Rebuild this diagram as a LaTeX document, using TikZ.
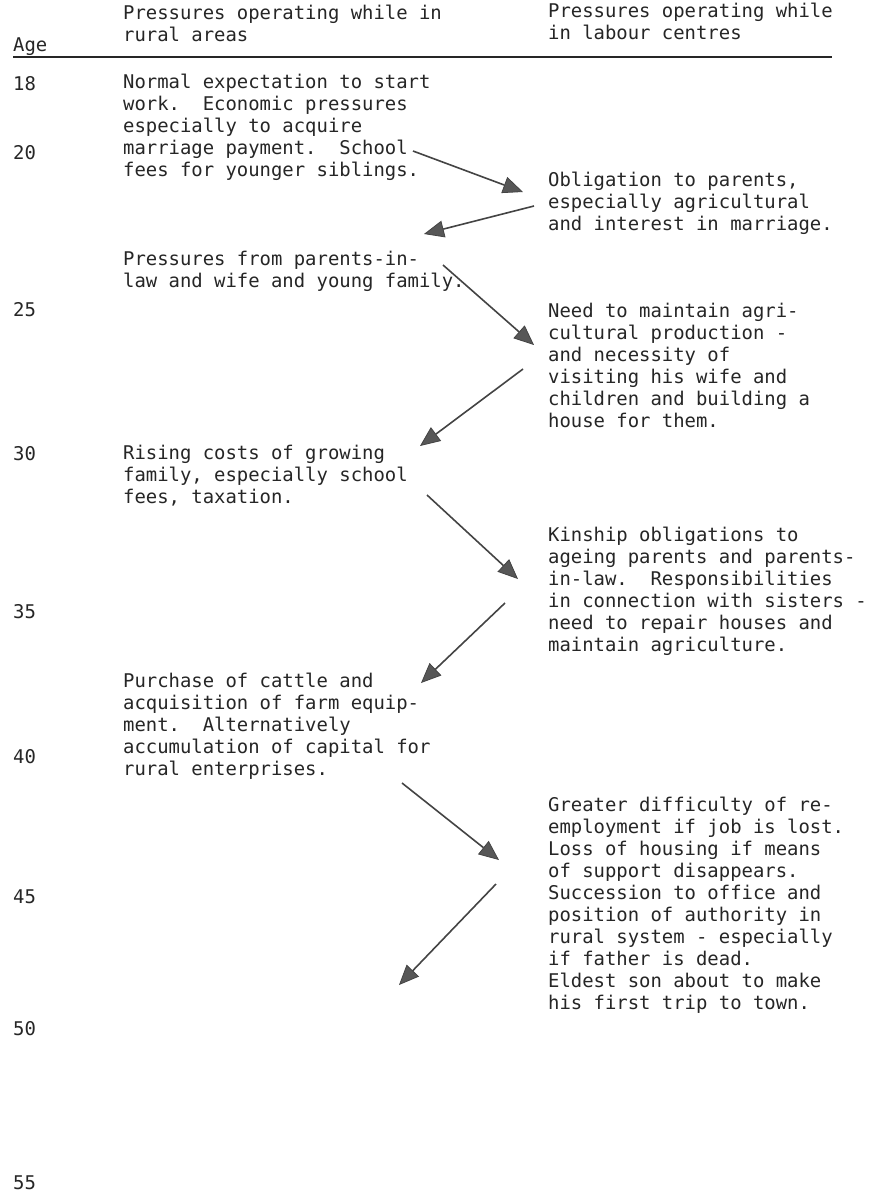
\documentclass[tikz,border=0pt]{standalone}
\usepackage{fontspec}
\setmonofont{DejaVu Sans Mono}
\usetikzlibrary{arrows.meta}
\definecolor{ink}{HTML}{262626}
\definecolor{shaft}{HTML}{444444}
\definecolor{headgray}{HTML}{575757}
\begin{document}
\begin{tikzpicture}[x=1pt,y=-1pt,
  txt/.style={font=\ttfamily\fontsize{18.9}{22}\selectfont, text=ink,
              inner sep=0pt, anchor=north west, align=left},
  agelab/.style={font=\ttfamily\fontsize{18.9}{22}\selectfont, text=ink,
              inner sep=0pt, anchor=base west},
  push/.style={draw=shaft, line width=1.6pt,
               -{Triangle[length=20pt,width=17pt,fill=headgray,line width=0.8pt]}}]
\useasboundingbox[fill=white] (0,0) rectangle (868,1194);

% column headings
\node[agelab] (hage) at (13,51) {Age};
\node[txt] (hrural) at (123,5) {Pressures operating while in\\rural areas};
\node[txt] (hlabour) at (548,3) {Pressures operating while\\in labour centres};
\coordinate (rulel) at (13,57);
\coordinate (ruler) at (832,57);
\draw[ink, line width=1.4pt] (rulel) -- (ruler);

% age scale
\node[agelab] (a18) at (13,90) {18};
\node[agelab] (a20) at (13,159) {20};
\node[agelab] (a25) at (13,316) {25};
\node[agelab] (a30) at (13,460) {30};
\node[agelab] (a35) at (13,618) {35};
\node[agelab] (a40) at (13,763) {40};
\node[agelab] (a45) at (13,903) {45};
\node[agelab] (a50) at (13,1035) {50};
\node[agelab] (a55) at (13,1189) {55};

% pressures while in rural areas
\node[txt] (r1) at (123,74) {Normal expectation to start\\work.\ \ Economic pressures\\especially to acquire\\marriage payment.\ \ School\\fees for younger siblings.};
\node[txt] (r2) at (123,251) {Pressures from parents-in-\\law and wife and young family.};
\node[txt] (r3) at (123,445) {Rising costs of growing\\family, especially school\\fees, taxation.};
\node[txt] (r4) at (123,673) {Purchase of cattle and\\acquisition of farm equip-\\ment.\ \ Alternatively\\accumulation of capital for\\rural enterprises.};

% pressures while in labour centres
\node[txt] (c1) at (548,172) {Obligation to parents,\\especially agricultural\\and interest in marriage.};
\node[txt] (c2) at (548,303) {Need to maintain agri-\\cultural production -\\and necessity of\\visiting his wife and\\children and building a\\house for them.};
\node[txt] (c3) at (548,527) {Kinship obligations to\\ageing parents and parents-\\in-law.\ \ Responsibilities\\in connection with sisters -\\need to repair houses and\\maintain agriculture.};
\node[txt] (c4) at (548,797) {Greater difficulty of re-\\employment if job is lost.\\Loss of housing if means\\of support disappears.\\Succession to office and\\position of authority in\\rural system - especially\\if father is dead.\\Eldest son about to make\\his first trip to town.};

% arrow end points
\coordinate (p1s) at (413,151); \coordinate (p1e) at (523,192);
\coordinate (p2s) at (534,206); \coordinate (p2e) at (424,234);
\coordinate (p3s) at (443,265); \coordinate (p3e) at (534,345);
\coordinate (p4s) at (523,369); \coordinate (p4e) at (420,446);
\coordinate (p5s) at (427,495); \coordinate (p5e) at (518,579);
\coordinate (p6s) at (505,603); \coordinate (p6e) at (421,683);
\coordinate (p7s) at (402,783); \coordinate (p7e) at (499,860);
\coordinate (p8s) at (496,884); \coordinate (p8e) at (399,985);

\draw[push] (p1s) -- (p1e);
\draw[push] (p2s) -- (p2e);
\draw[push] (p3s) -- (p3e);
\draw[push] (p4s) -- (p4e);
\draw[push] (p5s) -- (p5e);
\draw[push] (p6s) -- (p6e);
\draw[push] (p7s) -- (p7e);
\draw[push] (p8s) -- (p8e);
\end{tikzpicture}
\end{document}
